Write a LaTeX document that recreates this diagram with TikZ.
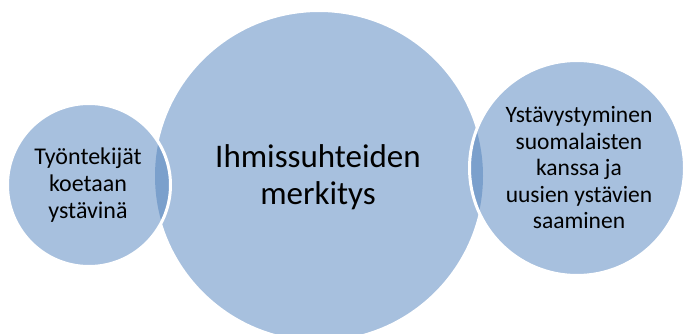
\documentclass[tikz,border=0pt]{standalone}
\usepackage{fontspec}
\setmainfont{Carlito}
\definecolor{vfill}{RGB}{167,192,222}
\definecolor{vdark}{RGB}{123,160,204}
\begin{document}
\begin{tikzpicture}[x=1pt,y=-1pt,
  circ/.style={circle,fill=vfill,draw=white,line width=2pt,inner sep=0pt},
  lbl/.style={align=center,text=black}]
\useasboundingbox (0,0) rectangle (683,334);
\node[circ,minimum size=330pt] (big) at (319,176) {};
\node[circ,minimum size=164pt] (left) at (89,185) {};
\node[circ,minimum size=216pt] (right) at (577,168) {};
\begin{scope}
  \clip (319,176) circle (164pt);
  \fill[vdark] (89,185) circle (81pt);
  \fill[vdark] (577,168) circle (107pt);
\end{scope}
\draw[white,line width=2pt] (left.center) circle (81pt);
\draw[white,line width=2pt] (right.center) circle (107pt);
\node[lbl,font=\fontsize{33}{37}\selectfont] (tbig) at (318,177) {Ihmissuhteiden\\merkitys};
\node[lbl,font=\fontsize{24}{27}\selectfont] (tleft) at (88,185) {Työntekijät\\koetaan\\ystävinä};
\node[lbl,font=\fontsize{23.5}{26.5}\selectfont] (tright) at (579,168) {Ystävystyminen\\suomalaisten\\kanssa ja\\uusien ystävien\\saaminen};
\end{tikzpicture}
\end{document}
